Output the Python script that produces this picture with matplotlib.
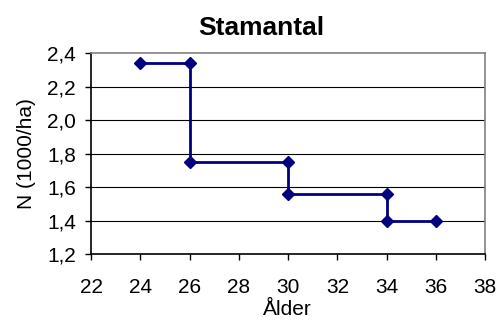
import matplotlib
matplotlib.use('Agg')
import matplotlib.pyplot as plt
from matplotlib.ticker import FuncFormatter

plt.rcParams['font.family'] = ['Liberation Sans', 'DejaVu Sans']

# Stamantal per ålder (trappsteg)
alder = [24, 26, 26, 30, 30, 34, 34, 36]
stamantal = [2.34, 2.34, 1.75, 1.75, 1.56, 1.56, 1.40, 1.40]
xticks = [22, 24, 26, 28, 30, 32, 34, 36, 38]
yticks = [1.2, 1.4, 1.6, 1.8, 2.0, 2.2, 2.4]

fig = plt.figure(figsize=(4.98, 3.2), dpi=100)
ax = fig.add_axes([0.183, 0.206, 0.791, 0.628])

for y in yticks[1:-1]:
    ax.axhline(y, color='black', linewidth=0.8, zorder=1)

ax.plot(alder, stamantal, color='#000080', linewidth=2, marker='D', markersize=6, zorder=3)

ax.set_xlim(22, 38)
ax.set_ylim(1.2, 2.4)
ax.set_xticks(xticks)
ax.set_yticks(yticks)
ax.yaxis.set_major_formatter(FuncFormatter(lambda v, p: ('%.1f' % v).replace('.', ',')))
ax.tick_params(direction='out', length=4, width=1, labelsize=15)
ax.tick_params(axis='y', pad=7)
ax.tick_params(axis='x', pad=13)

ax.spines['left'].set_color('black')
ax.spines['bottom'].set_color('black')
ax.spines['top'].set_color('#808080')
ax.spines['right'].set_color('#808080')
for s in ax.spines.values():
    s.set_linewidth(1.2)

# titel och x-etikett placeras på diagramytan som i originalet
fig.text(261/498, 1-35/320, 'Stamantal', fontsize=19, fontweight='bold', ha='center', va='baseline')
fig.text(287.5/498, 1-315/320, 'Ålder', fontsize=15, ha='center', va='baseline')
ax.set_ylabel('N (1000/ha)', fontsize=15, labelpad=8)

fig.savefig('out.png', dpi=100)
